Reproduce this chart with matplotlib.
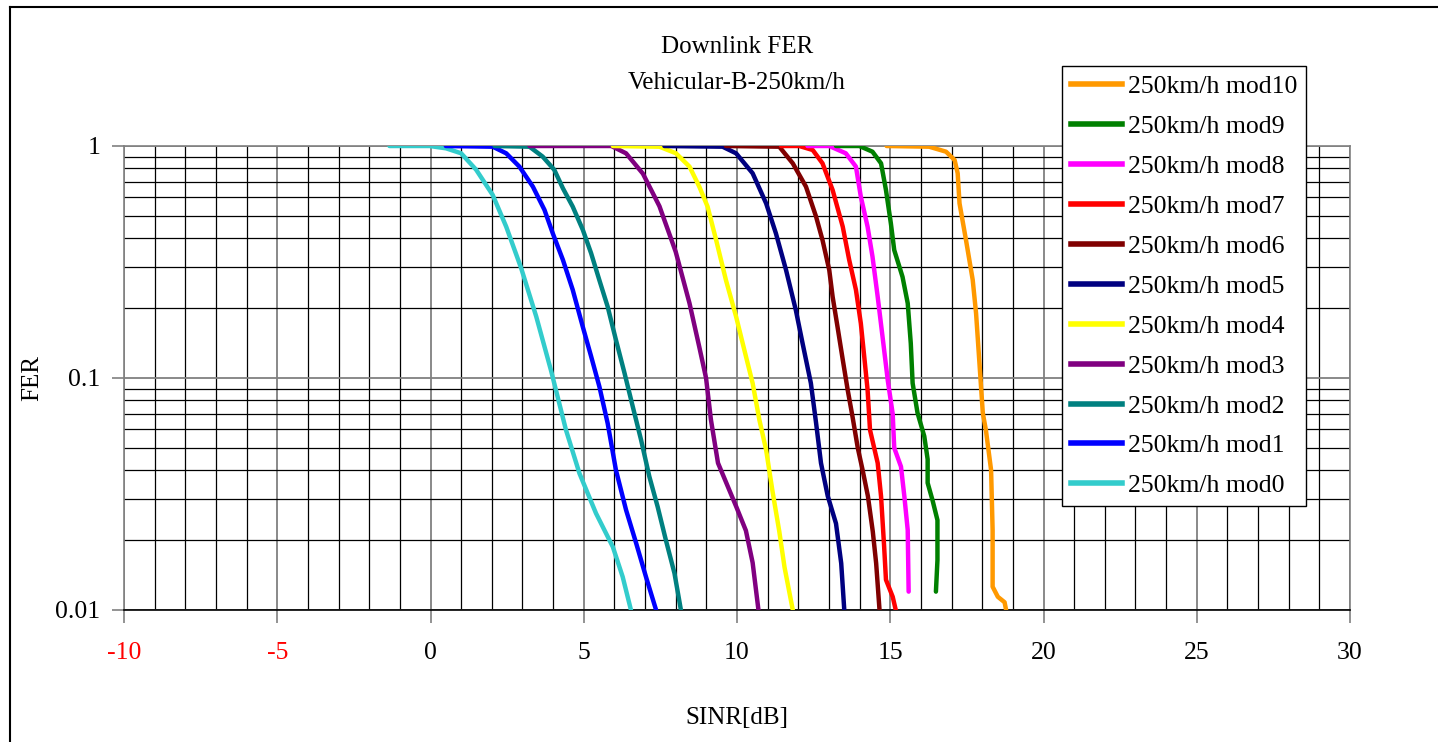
import matplotlib
matplotlib.use("Agg")
import matplotlib.pyplot as plt
from matplotlib.ticker import MultipleLocator, LogLocator, NullFormatter, FixedLocator
from matplotlib.lines import Line2D

plt.rcParams['font.family'] = ['Liberation Serif', 'DejaVu Serif']

# SINR [dB] / FER pairs
mod0_x = [-1.34, -0.03, 0.51, 1.0, 1.49, 2.03, 2.47, 2.96, 3.45, 3.93, 4.42, 4.86, 5.40, 5.95, 6.27, 6.54]
mod0_y = [1, 1, 0.977, 0.93, 0.79, 0.615, 0.449, 0.297, 0.184, 0.108, 0.0597, 0.0388, 0.0261, 0.0187, 0.0139, 0.01]

mod1_x = [0.5, 2.03, 2.47, 2.90, 3.34, 3.72, 3.99, 4.32, 4.64, 4.97, 5.24, 5.51, 5.78, 6.05, 6.38, 6.71, 7.03, 7.36]
mod1_y = [1, 0.993, 0.93, 0.815, 0.668, 0.53, 0.42, 0.323, 0.24, 0.166, 0.124, 0.0918, 0.0638, 0.0401, 0.027, 0.0194, 0.0139, 0.01]

mod2_x = [2.09, 3.23, 3.66, 4.04, 4.32, 4.64, 4.97, 5.24, 5.51, 5.78, 6.05, 6.33, 6.60, 6.87, 7.14, 7.41, 7.68, 7.96, 8.17]
mod2_y = [1, 0.993, 0.90, 0.789, 0.657, 0.548, 0.435, 0.345, 0.264, 0.203, 0.146, 0.105, 0.0752, 0.0541, 0.0376, 0.0279, 0.02, 0.0144, 0.01]

mod3_x = [3.23, 5.9, 6.38, 6.93, 7.47, 8.0, 8.45, 8.77, 8.99, 9.15, 9.38, 9.97, 10.29, 10.51, 10.7]
mod3_y = [1, 1, 0.93, 0.76, 0.55, 0.35, 0.21, 0.136, 0.1, 0.066, 0.043, 0.028, 0.022, 0.016, 0.01]

mod4_x = [5.95, 7.47, 8.01, 8.45, 8.77, 9.04, 9.32, 9.64, 9.97, 10.24, 10.51, 10.73, 10.95, 11.16, 11.38, 11.55, 11.82]
mod4_y = [1, 0.993, 0.93, 0.815, 0.668, 0.548, 0.393, 0.264, 0.184, 0.132, 0.095, 0.066, 0.049, 0.0324, 0.0218, 0.0153, 0.01]

mod5_x = [7.63, 9.53, 9.97, 10.51, 10.95, 11.27, 11.60, 11.92, 12.14, 12.41, 12.58, 12.74, 12.96, 13.23, 13.40, 13.5]
mod5_y = [1, 0.993, 0.93, 0.763, 0.566, 0.42, 0.292, 0.196, 0.141, 0.095, 0.064, 0.043, 0.031, 0.0236, 0.0159, 0.01]

mod6_x = [9.64, 11.38, 11.82, 12.25, 12.58, 12.79, 13.01, 13.12, 13.28, 13.45, 13.61, 13.77, 13.94, 14.10, 14.27, 14.43, 14.54, 14.65]
mod6_y = [1, 0.993, 0.842, 0.668, 0.496, 0.393, 0.292, 0.224, 0.166, 0.12, 0.089, 0.068, 0.05, 0.04, 0.031, 0.0218, 0.0159, 0.01]

mod7_x = [11.44, 12.03, 12.47, 12.79, 13.12, 13.45, 13.66, 13.88, 14.04, 14.15, 14.26, 14.34, 14.59, 14.70, 14.80, 14.86, 15.08, 15.18]
mod7_y = [1, 1, 0.961, 0.842, 0.646, 0.449, 0.323, 0.24, 0.172, 0.124, 0.089, 0.0597, 0.043, 0.0309, 0.0188, 0.0135, 0.0114, 0.01]

mod8_x = [12.3, 13.01, 13.55, 13.88, 14.04, 14.26, 14.42, 14.59, 14.75, 14.92, 15.08, 15.13, 15.35, 15.46, 15.57, 15.60]
mod8_y = [1, 1, 0.93, 0.815, 0.605, 0.449, 0.334, 0.224, 0.15, 0.0975, 0.07, 0.05, 0.0415, 0.0309, 0.0221, 0.012]

mod9_x = [13.23, 13.99, 14.42, 14.70, 14.86, 15.02, 15.13, 15.40, 15.57, 15.67, 15.73, 15.89, 16.11, 16.22, 16.22, 16.38, 16.54, 16.54, 16.49]
mod9_y = [1, 1, 0.945, 0.842, 0.646, 0.464, 0.356, 0.273, 0.21, 0.141, 0.095, 0.0707, 0.0561, 0.0446, 0.0353, 0.0297, 0.0244, 0.0164, 0.012]

mod10_x = [14.88, 16.27, 16.82, 17.10, 17.20, 17.26, 17.47, 17.69, 17.80, 17.91, 18.02, 18.12, 18.29, 18.34, 18.34, 18.51, 18.73, 18.78]
mod10_y = [1, 0.993, 0.945, 0.87, 0.763, 0.566, 0.394, 0.265, 0.19, 0.116, 0.0706, 0.0597, 0.0401, 0.0221, 0.0126, 0.0114, 0.0108, 0.01]

series = [
    ("250km/h mod0", mod0_x, mod0_y, "#33CCCC"),
    ("250km/h mod1", mod1_x, mod1_y, "#0000FF"),
    ("250km/h mod2", mod2_x, mod2_y, "#008080"),
    ("250km/h mod3", mod3_x, mod3_y, "#800080"),
    ("250km/h mod4", mod4_x, mod4_y, "#FFFF00"),
    ("250km/h mod5", mod5_x, mod5_y, "#000080"),
    ("250km/h mod6", mod6_x, mod6_y, "#800000"),
    ("250km/h mod7", mod7_x, mod7_y, "#FF0000"),
    ("250km/h mod8", mod8_x, mod8_y, "#FF00FF"),
    ("250km/h mod9", mod9_x, mod9_y, "#008000"),
    ("250km/h mod10", mod10_x, mod10_y, "#FF9900"),
]

x_ticks = [-10, -5, 0, 5, 10, 15, 20, 25, 30]
y_ticks = [0.01, 0.1, 1]
y_tick_labels = ["0.01", "0.1", "1"]

W, H = 1438, 742
fig = plt.figure(figsize=(W / 100, H / 100), dpi=100)
ax = fig.add_axes([124 / W, 1 - 610 / H, (1350 - 124) / W, (610 - 146) / H])

for name, xs, ys, col in series:
    ax.plot(xs, ys, color=col, lw=3.2, solid_capstyle='round', solid_joinstyle='round', zorder=3)

ax.set_yscale('log')
ax.set_xlim(-10, 30)
ax.set_ylim(0.01, 1)

ax.xaxis.set_major_locator(FixedLocator(x_ticks))
ax.xaxis.set_minor_locator(MultipleLocator(1))
ax.yaxis.set_major_locator(FixedLocator(y_ticks))
ax.yaxis.set_minor_locator(LogLocator(base=10, subs=range(2, 10)))
ax.yaxis.set_minor_formatter(NullFormatter())
ax.set_yticklabels(y_tick_labels)
ax.set_xticklabels([str(v) for v in x_ticks])

ax.grid(which='minor', color='black', lw=0.9, zorder=1)
ax.grid(which='major', color='#808080', lw=1.3, zorder=1)

ax.tick_params(which='major', direction='out', length=9, width=1.2, color='#808080',
               labelsize=18.5, pad=14)
ax.tick_params(axis='y', pad=8)
ax.tick_params(which='minor', length=0)
for lbl, v in zip(ax.get_xticklabels(), x_ticks):
    if v < 0:
        lbl.set_color('red')

for s in ax.spines.values():
    s.set_color('#808080')
    s.set_linewidth(1.2)
ax.spines['bottom'].set_color('black')

ax.set_xlabel('SINR[dB]', fontsize=18, labelpad=31)
fig.text(32 / W, 1 - 378 / H, 'FER', rotation=90, ha='center', va='center', fontsize=18)

fig.text(737 / W, 1 - 47 / H, 'Downlink FER', ha='center', va='center', fontsize=18)
fig.text(737 / W, 1 - 83 / H, 'Vehicular-B-250km/h', ha='center', va='center', fontsize=18)

handles = [Line2D([0], [0], color=c, lw=4) for _, _, _, c in series][::-1]
labels = [n for n, _, _, _ in series][::-1]
leg = fig.legend(handles, labels, loc='upper left', bbox_to_anchor=(1062 / W, 1 - 66 / H),
                 fontsize=18.5, frameon=True, fancybox=False, framealpha=1,
                 edgecolor='black', handlelength=2.0, handletextpad=0.2,
                 labelspacing=0.66, borderpad=0.35, borderaxespad=0)
leg.get_frame().set_linewidth(1.0)

# outer chart border (only left and top are inside the picture)
fig.add_artist(Line2D([10 / W, 10 / W], [0, 1 - 7 / H], color='black', lw=1.5))
fig.add_artist(Line2D([10 / W, 1], [1 - 7 / H, 1 - 7 / H], color='black', lw=1.5))

fig.savefig('out.png', dpi=100)
